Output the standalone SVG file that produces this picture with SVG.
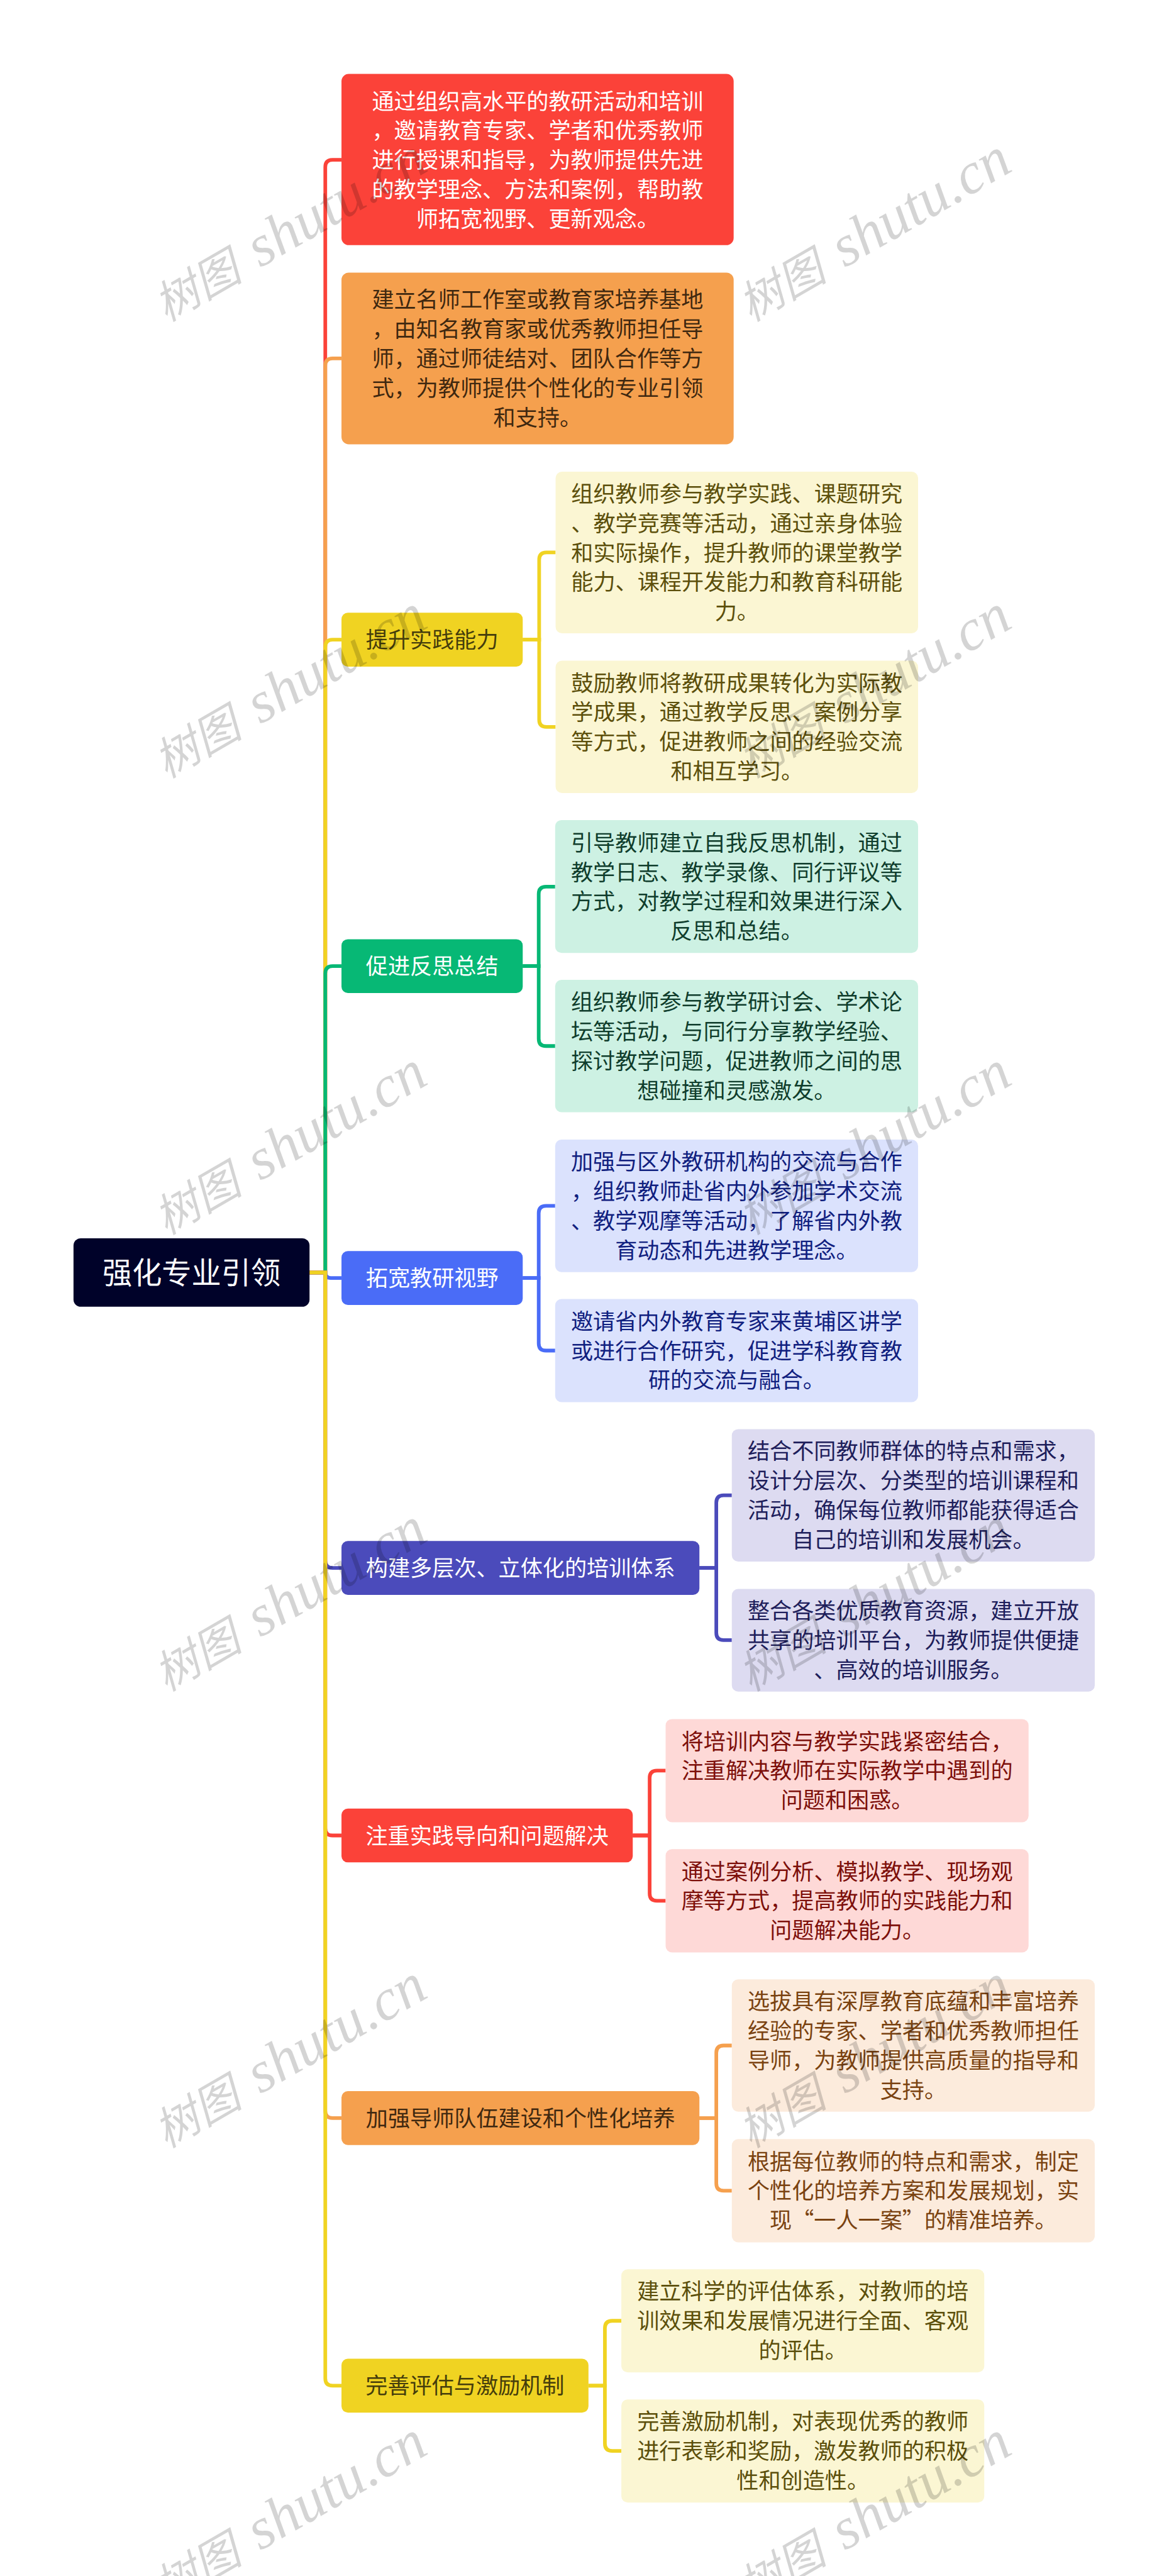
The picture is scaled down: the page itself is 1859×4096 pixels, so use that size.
<svg xmlns="http://www.w3.org/2000/svg" width="1859" height="4096" viewBox="0 0 1859 4096">
<style>
text{font-family:"Noto Sans CJK SC",sans-serif;font-size:48.4px;text-anchor:middle}
.c{fill:none;stroke-width:8}
.cr{stroke:#FB4239}.co{stroke:#F5A04E}.cy{stroke:#F0D322}.cg{stroke:#07B875}.cb{stroke:#4A6CF7}.ci{stroke:#4B4BBB}
.fr{fill:#FB4239}.fo{fill:#F5A04E}.fy{fill:#F0D322}.fg{fill:#07B875}.fb{fill:#4A6CF7}.fi{fill:#4B4BBB}
.ly{fill:#FBF6D3}.lg{fill:#CDF1E3}.lb{fill:#DBE2FD}.li{fill:#DDDBF1}.lr{fill:#FED9D7}.lo{fill:#FCEBDC}
.tw{fill:#FFFFFF}.td{fill:#3F2810}.tn{fill:#453D0C}
.ty{fill:#5C4F0B}.tg{fill:#0F3D2C}.tb{fill:#10207F}.ti{fill:#1E1E5B}.tr{fill:#7D0F0A}.to{fill:#7A4210}
.root{font-size:65px}
.wm{font-family:"Liberation Serif","Noto Sans CJK SC",serif;font-size:128px;font-style:italic;fill:#000;fill-opacity:.17;text-anchor:start}
.wc{font-family:"Noto Sans CJK SC",serif;font-size:98px}
</style>
<rect width="1859" height="4096" fill="#FFFFFF"/>
<g transform="scale(0.726)">
<g id="connectors">
<path class="c cr" d="M678,2787H712.5V366Q712.5,350 728.5,350H748"/>
<path class="c co" d="M678,2787H712.5V801Q712.5,785 728.5,785H748"/>
<path class="c cy" d="M678,2787H712.5V1417Q712.5,1401 728.5,1401H748"/>
<path class="c cg" d="M678,2787H712.5V2132Q712.5,2116 728.5,2116H748"/>
<path class="c cb" d="M678,2787H712.5Q712.5,2799 724.5,2799H748"/>
<path class="c ci" d="M678,2787H712.5V3418Q712.5,3434 728.5,3434H748"/>
<path class="c cr" d="M678,2787H712.5V4004Q712.5,4020 728.5,4020H748"/>
<path class="c co" d="M678,2787H712.5V4623Q712.5,4639 728.5,4639H748"/>
<path class="c cy" d="M678,2787H712.5V5209Q712.5,5225 728.5,5225H748"/>
<path class="c cy" d="M1145,1401H1181V1226Q1181,1210 1197,1210H1217"/>
<path class="c cy" d="M1145,1401H1181V1576Q1181,1592 1197,1592H1217"/>
<path class="c cg" d="M1145,2116H1180V1958Q1180,1942 1196,1942H1216"/>
<path class="c cg" d="M1145,2116H1180V2275Q1180,2291 1196,2291H1216"/>
<path class="c cb" d="M1145,2799H1180V2657Q1180,2641 1196,2641H1216"/>
<path class="c cb" d="M1145,2799H1180V2942Q1180,2958 1196,2958H1216"/>
<path class="c ci" d="M1532,3434H1569V3291Q1569,3275 1585,3275H1603"/>
<path class="c ci" d="M1532,3434H1569V3576Q1569,3592 1585,3592H1603"/>
<path class="c cr" d="M1386,4020H1423V3894Q1423,3878 1439,3878H1458"/>
<path class="c cr" d="M1386,4020H1423V4147Q1423,4163 1439,4163H1458"/>
<path class="c co" d="M1532,4639H1569V4496Q1569,4480 1585,4480H1603"/>
<path class="c co" d="M1532,4639H1569V4782Q1569,4798 1585,4798H1603"/>
<path class="c cy" d="M1289,5225H1325V5099Q1325,5083 1341,5083H1361"/>
<path class="c cy" d="M1289,5225H1325V5352Q1325,5368 1341,5368H1361"/>
</g>
<g id="root"><rect x="161" y="2712" width="517" height="150" rx="16" fill="#000229"/><text class="root tw" x="419.5" y="2811">强化专业引领</text></g>
<g id="n1"><rect class="fr" x="748" y="162" width="859" height="375" rx="16"/><text class="tw"><tspan x="1177.5" y="239">通过组织高水平的教研活动和培训</tspan><tspan x="1177.5" y="303.5">，邀请教育专家、学者和优秀教师</tspan><tspan x="1177.5" y="368">进行授课和指导，为教师提供先进</tspan><tspan x="1177.5" y="432.5">的教学理念、方法和案例，帮助教</tspan><tspan x="1177.5" y="497">师拓宽视野、更新观念。</tspan></text></g>
<g id="n2"><rect class="fo" x="748" y="597" width="859" height="376" rx="16"/><text class="td"><tspan x="1177.5" y="674">建立名师工作室或教育家培养基地</tspan><tspan x="1177.5" y="738.5">，由知名教育家或优秀教师担任导</tspan><tspan x="1177.5" y="803">师，通过师徒结对、团队合作等方</tspan><tspan x="1177.5" y="867.5">式，为教师提供个性化的专业引领</tspan><tspan x="1177.5" y="932">和支持。</tspan></text></g>
<g id="n3"><rect class="fy" x="748" y="1342" width="397" height="118" rx="14"/><text class="tn" x="946.5" y="1419">提升实践能力</text></g>
<g id="n3a"><rect class="ly" x="1217" y="1033" width="794" height="354" rx="14"/><text class="ty"><tspan x="1614" y="1099">组织教师参与教学实践、课题研究</tspan><tspan x="1614" y="1163.5">、教学竞赛等活动，通过亲身体验</tspan><tspan x="1614" y="1228">和实际操作，提升教师的课堂教学</tspan><tspan x="1614" y="1292.5">能力、课程开发能力和教育科研能</tspan><tspan x="1614" y="1357">力。</tspan></text></g>
<g id="n3b"><rect class="ly" x="1217" y="1447" width="794" height="290" rx="14"/><text class="ty"><tspan x="1614" y="1513.25">鼓励教师将教研成果转化为实际教</tspan><tspan x="1614" y="1577.75">学成果，通过教学反思、案例分享</tspan><tspan x="1614" y="1642.25">等方式，促进教师之间的经验交流</tspan><tspan x="1614" y="1706.75">和相互学习。</tspan></text></g>
<g id="n4"><rect class="fg" x="748" y="2057" width="397" height="118" rx="14"/><text class="tw" x="946.5" y="2134">促进反思总结</text></g>
<g id="n4a"><rect class="lg" x="1216" y="1796" width="795" height="291" rx="14"/><text class="tg"><tspan x="1613.5" y="1863.25">引导教师建立自我反思机制，通过</tspan><tspan x="1613.5" y="1927.75">教学日志、教学录像、同行评议等</tspan><tspan x="1613.5" y="1992.25">方式，对教学过程和效果进行深入</tspan><tspan x="1613.5" y="2056.75">反思和总结。</tspan></text></g>
<g id="n4b"><rect class="lg" x="1216" y="2146" width="795" height="290" rx="14"/><text class="tg"><tspan x="1613.5" y="2212.25">组织教师参与教学研讨会、学术论</tspan><tspan x="1613.5" y="2276.75">坛等活动，与同行分享教学经验、</tspan><tspan x="1613.5" y="2341.25">探讨教学问题，促进教师之间的思</tspan><tspan x="1613.5" y="2405.75">想碰撞和灵感激发。</tspan></text></g>
<g id="n5"><rect class="fb" x="748" y="2740" width="397" height="118" rx="14"/><text class="tw" x="946.5" y="2817">拓宽教研视野</text></g>
<g id="n5a"><rect class="lb" x="1216" y="2496" width="795" height="290" rx="14"/><text class="tb"><tspan x="1613.5" y="2562.25">加强与区外教研机构的交流与合作</tspan><tspan x="1613.5" y="2626.75">，组织教师赴省内外参加学术交流</tspan><tspan x="1613.5" y="2691.25">、教学观摩等活动，了解省内外教</tspan><tspan x="1613.5" y="2755.75">育动态和先进教学理念。</tspan></text></g>
<g id="n5b"><rect class="lb" x="1216" y="2845" width="795" height="226" rx="14"/><text class="tb"><tspan x="1613.5" y="2911.5">邀请省内外教育专家来黄埔区讲学</tspan><tspan x="1613.5" y="2976">或进行合作研究，促进学科教育教</tspan><tspan x="1613.5" y="3040.5">研的交流与融合。</tspan></text></g>
<g id="n6"><rect class="fi" x="748" y="3375" width="784" height="118" rx="14"/><text class="tw" x="1140" y="3452">构建多层次、立体化的培训体系</text></g>
<g id="n6a"><rect class="li" x="1603" y="3130" width="795" height="290" rx="14"/><text class="ti"><tspan x="2000.5" y="3196.25">结合不同教师群体的特点和需求，</tspan><tspan x="2000.5" y="3260.75">设计分层次、分类型的培训课程和</tspan><tspan x="2000.5" y="3325.25">活动，确保每位教师都能获得适合</tspan><tspan x="2000.5" y="3389.75">自己的培训和发展机会。</tspan></text></g>
<g id="n6b"><rect class="li" x="1603" y="3480" width="795" height="225" rx="14"/><text class="ti"><tspan x="2000.5" y="3545.5">整合各类优质教育资源，建立开放</tspan><tspan x="2000.5" y="3610">共享的培训平台，为教师提供便捷</tspan><tspan x="2000.5" y="3674.5">、高效的培训服务。</tspan></text></g>
<g id="n7"><rect class="fr" x="748" y="3961" width="638" height="118" rx="14"/><text class="tw" x="1067" y="4038">注重实践导向和问题解决</text></g>
<g id="n7a"><rect class="lr" x="1458" y="3765" width="795" height="226" rx="14"/><text class="tr"><tspan x="1855.5" y="3831.5">将培训内容与教学实践紧密结合，</tspan><tspan x="1855.5" y="3896">注重解决教师在实际教学中遇到的</tspan><tspan x="1855.5" y="3960.5">问题和困惑。</tspan></text></g>
<g id="n7b"><rect class="lr" x="1458" y="4050" width="795" height="226" rx="14"/><text class="tr"><tspan x="1855.5" y="4116.5">通过案例分析、模拟教学、现场观</tspan><tspan x="1855.5" y="4181">摩等方式，提高教师的实践能力和</tspan><tspan x="1855.5" y="4245.5">问题解决能力。</tspan></text></g>
<g id="n8"><rect class="fo" x="748" y="4580" width="784" height="118" rx="14"/><text class="td" x="1140" y="4657">加强导师队伍建设和个性化培养</text></g>
<g id="n8a"><rect class="lo" x="1603" y="4335" width="795" height="290" rx="14"/><text class="to"><tspan x="2000.5" y="4401.25">选拔具有深厚教育底蕴和丰富培养</tspan><tspan x="2000.5" y="4465.75">经验的专家、学者和优秀教师担任</tspan><tspan x="2000.5" y="4530.25">导师，为教师提供高质量的指导和</tspan><tspan x="2000.5" y="4594.75">支持。</tspan></text></g>
<g id="n8b"><rect class="lo" x="1603" y="4685" width="795" height="226" rx="14"/><text class="to"><tspan x="2000.5" y="4751.5">根据每位教师的特点和需求，制定</tspan><tspan x="2000.5" y="4816">个性化的培养方案和发展规划，实</tspan><tspan x="2000.5" y="4880.5">现“一人一案”的精准培养。</tspan></text></g>
<g id="n9"><rect class="fy" x="748" y="5166" width="541" height="118" rx="14"/><text class="tn" x="1018.5" y="5243">完善评估与激励机制</text></g>
<g id="n9a"><rect class="ly" x="1361" y="4970" width="795" height="226" rx="14"/><text class="ty"><tspan x="1758.5" y="5036.5">建立科学的评估体系，对教师的培</tspan><tspan x="1758.5" y="5101">训效果和发展情况进行全面、客观</tspan><tspan x="1758.5" y="5165.5">的评估。</tspan></text></g>
<g id="n9b"><rect class="ly" x="1361" y="5255" width="795" height="226" rx="14"/><text class="ty"><tspan x="1758.5" y="5321.5">完善激励机制，对表现优秀的教师</tspan><tspan x="1758.5" y="5386">进行表彰和奖励，激发教师的积极</tspan><tspan x="1758.5" y="5450.5">性和创造性。</tspan></text></g>
<g id="watermark">
<text class="wm" transform="translate(364,706) rotate(-30)"><tspan class="wc">树图</tspan> <tspan dx="10">shutu.cn</tspan></text>
<text class="wm" transform="translate(1644,706) rotate(-30)"><tspan class="wc">树图</tspan> <tspan dx="10">shutu.cn</tspan></text>
<text class="wm" transform="translate(364,1706) rotate(-30)"><tspan class="wc">树图</tspan> <tspan dx="10">shutu.cn</tspan></text>
<text class="wm" transform="translate(1644,1706) rotate(-30)"><tspan class="wc">树图</tspan> <tspan dx="10">shutu.cn</tspan></text>
<text class="wm" transform="translate(364,2706) rotate(-30)"><tspan class="wc">树图</tspan> <tspan dx="10">shutu.cn</tspan></text>
<text class="wm" transform="translate(1644,2706) rotate(-30)"><tspan class="wc">树图</tspan> <tspan dx="10">shutu.cn</tspan></text>
<text class="wm" transform="translate(364,3706) rotate(-30)"><tspan class="wc">树图</tspan> <tspan dx="10">shutu.cn</tspan></text>
<text class="wm" transform="translate(1644,3706) rotate(-30)"><tspan class="wc">树图</tspan> <tspan dx="10">shutu.cn</tspan></text>
<text class="wm" transform="translate(364,4706) rotate(-30)"><tspan class="wc">树图</tspan> <tspan dx="10">shutu.cn</tspan></text>
<text class="wm" transform="translate(1644,4706) rotate(-30)"><tspan class="wc">树图</tspan> <tspan dx="10">shutu.cn</tspan></text>
<text class="wm" transform="translate(364,5706) rotate(-30)"><tspan class="wc">树图</tspan> <tspan dx="10">shutu.cn</tspan></text>
<text class="wm" transform="translate(1644,5706) rotate(-30)"><tspan class="wc">树图</tspan> <tspan dx="10">shutu.cn</tspan></text>
</g>
</g>
</svg>
